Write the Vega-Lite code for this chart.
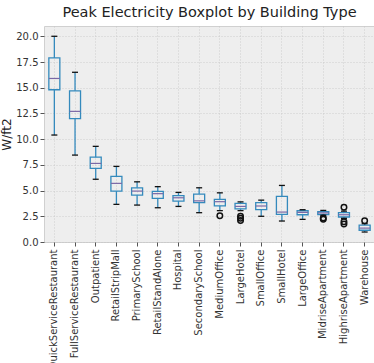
{
  "$schema": "https://vega.github.io/schema/vega-lite/v6.json",
  "width": 331,
  "height": 216,
  "padding": {"left": 0, "top": 4, "right": 0, "bottom": 0},
  "background": "white",
  "title": {"text": "Peak Electricity Boxplot by Building Type", "fontSize": 14.5, "fontWeight": "normal", "font": "DejaVu Sans", "color": "#222222", "offset": 6},
  "config": {
    "view": {"fill": "#eeeeee", "stroke": "#d0d0d0"},
    "axis": {"labelFont": "DejaVu Sans", "titleFont": "DejaVu Sans", "labelFontSize": 10, "labelColor": "#333333", "titleFontWeight": "normal", "titleColor": "#222222", "domain": false, "tickColor": "#555555", "tickSize": 4, "gridColor": "#c4c4c4", "gridDash": [1, 2], "gridWidth": 0.8, "labelOverlap": false}
  },
  "datasets": {
    "stats": [
      {"type": "QuickServiceRestaurant", "lo": 10.4, "q1": 14.8, "med": 15.9, "q3": 17.9, "hi": 20.0},
      {"type": "FullServiceRestaurant", "lo": 8.45, "q1": 12.0, "med": 12.7, "q3": 14.7, "hi": 16.5},
      {"type": "Outpatient", "lo": 6.1, "q1": 7.15, "med": 7.64, "q3": 8.25, "hi": 9.3},
      {"type": "RetailStripMall", "lo": 3.66, "q1": 4.95, "med": 5.7, "q3": 6.38, "hi": 7.35},
      {"type": "PrimarySchool", "lo": 3.59, "q1": 4.56, "med": 4.95, "q3": 5.27, "hi": 5.85},
      {"type": "RetailStandAlone", "lo": 3.33, "q1": 4.25, "med": 4.7, "q3": 4.93, "hi": 5.38},
      {"type": "Hospital", "lo": 3.46, "q1": 3.98, "med": 4.3, "q3": 4.5, "hi": 4.82},
      {"type": "SecondarySchool", "lo": 2.85, "q1": 3.82, "med": 4.0, "q3": 4.66, "hi": 5.27},
      {"type": "MediumOffice", "lo": 3.05, "q1": 3.52, "med": 3.92, "q3": 4.14, "hi": 4.78},
      {"type": "LargeHotel", "lo": 3.05, "q1": 3.23, "med": 3.46, "q3": 3.75, "hi": 3.9},
      {"type": "SmallOffice", "lo": 2.5, "q1": 3.15, "med": 3.5, "q3": 3.82, "hi": 4.07},
      {"type": "SmallHotel", "lo": 2.04, "q1": 2.69, "med": 2.91, "q3": 4.43, "hi": 5.5},
      {"type": "LargeOffice", "lo": 2.2, "q1": 2.65, "med": 2.88, "q3": 3.04, "hi": 3.14},
      {"type": "MidriseApartment", "lo": 2.6, "q1": 2.66, "med": 2.82, "q3": 2.94, "hi": 3.07},
      {"type": "HighriseApartment", "lo": 2.3, "q1": 2.43, "med": 2.65, "q3": 2.85, "hi": 3.0},
      {"type": "Warehouse", "lo": 0.97, "q1": 1.14, "med": 1.35, "q3": 1.65, "hi": 1.78}
    ],
    "outliers": [
      {"type": "MediumOffice", "value": 2.55},
      {"type": "LargeHotel", "value": 2.5},
      {"type": "LargeHotel", "value": 2.3},
      {"type": "LargeHotel", "value": 2.1},
      {"type": "MidriseApartment", "value": 2.33},
      {"type": "MidriseApartment", "value": 2.22},
      {"type": "HighriseApartment", "value": 3.38},
      {"type": "HighriseApartment", "value": 1.97},
      {"type": "HighriseApartment", "value": 1.74},
      {"type": "Warehouse", "value": 2.07}
    ]
  },
  "encoding": {
    "x": {
      "field": "type", "type": "nominal", "title": null,
      "sort": ["QuickServiceRestaurant", "FullServiceRestaurant", "Outpatient", "RetailStripMall", "PrimarySchool", "RetailStandAlone", "Hospital", "SecondarySchool", "MediumOffice", "LargeHotel", "SmallOffice", "SmallHotel", "LargeOffice", "MidriseApartment", "HighriseApartment", "Warehouse"],
      "scale": {"paddingInner": 0, "paddingOuter": 0},
      "axis": {"labelAngle": 270, "labelAlign": "right", "labelBaseline": "middle", "grid": true, "labelPadding": 3, "bandPosition": 0.5}
    }
  },
  "layer": [
    {
      "data": {"name": "stats"},
      "mark": {"type": "rule", "color": "#348ABD", "strokeWidth": 1.3},
      "encoding": {
        "y": {"field": "lo", "type": "quantitative", "title": "W/ft2", "scale": {"domain": [0, 21], "nice": false}, "axis": {"values": [0, 2.5, 5, 7.5, 10, 12.5, 15, 17.5, 20], "format": ".1f", "titleFontSize": 12, "labelPadding": 2, "titlePadding": 2, "grid": true, "labelOverlap": false}},
        "y2": {"field": "q1"}
      }
    },
    {
      "data": {"name": "stats"},
      "mark": {"type": "rule", "color": "#348ABD", "strokeWidth": 1.3},
      "encoding": {
        "y": {"field": "q3", "type": "quantitative", "title": "W/ft2", "axis": {"values": [0, 2.5, 5, 7.5, 10, 12.5, 15, 17.5, 20], "format": ".1f", "titleFontSize": 12, "labelPadding": 2, "titlePadding": 2, "grid": true, "labelOverlap": false}},
        "y2": {"field": "hi"}
      }
    },
    {
      "data": {"name": "stats"},
      "mark": {"type": "bar", "fill": "#eeeeee", "fillOpacity": 0, "stroke": "#348ABD", "strokeWidth": 1.3, "width": 11},
      "encoding": {
        "y": {"field": "q1", "type": "quantitative", "title": "W/ft2", "axis": {"values": [0, 2.5, 5, 7.5, 10, 12.5, 15, 17.5, 20], "format": ".1f", "titleFontSize": 12, "labelPadding": 2, "titlePadding": 2, "grid": true, "labelOverlap": false}},
        "y2": {"field": "q3"}
      }
    },
    {
      "data": {"name": "stats"},
      "mark": {"type": "tick", "color": "#7A68A6", "size": 11, "thickness": 1.2, "opacity": 1},
      "encoding": {"y": {"field": "med", "type": "quantitative", "title": "W/ft2", "axis": {"values": [0, 2.5, 5, 7.5, 10, 12.5, 15, 17.5, 20], "format": ".1f", "titleFontSize": 12, "labelPadding": 2, "titlePadding": 2, "grid": true, "labelOverlap": false}}}
    },
    {
      "data": {"name": "stats"},
      "mark": {"type": "tick", "color": "#111111", "size": 6, "thickness": 1.3, "opacity": 1},
      "encoding": {"y": {"field": "lo", "type": "quantitative", "title": "W/ft2", "axis": {"values": [0, 2.5, 5, 7.5, 10, 12.5, 15, 17.5, 20], "format": ".1f", "titleFontSize": 12, "labelPadding": 2, "titlePadding": 2, "grid": true, "labelOverlap": false}}}
    },
    {
      "data": {"name": "stats"},
      "mark": {"type": "tick", "color": "#111111", "size": 6, "thickness": 1.3, "opacity": 1},
      "encoding": {"y": {"field": "hi", "type": "quantitative", "title": "W/ft2", "axis": {"values": [0, 2.5, 5, 7.5, 10, 12.5, 15, 17.5, 20], "format": ".1f", "titleFontSize": 12, "labelPadding": 2, "titlePadding": 2, "grid": true, "labelOverlap": false}}}
    },
    {
      "data": {"name": "outliers"},
      "mark": {"type": "point", "shape": "circle", "filled": false, "stroke": "#111111", "strokeWidth": 1.5, "size": 30, "opacity": 1},
      "encoding": {"y": {"field": "value", "type": "quantitative", "title": "W/ft2", "axis": {"values": [0, 2.5, 5, 7.5, 10, 12.5, 15, 17.5, 20], "format": ".1f", "titleFontSize": 12, "labelPadding": 2, "titlePadding": 2, "grid": true, "labelOverlap": false}}}
    }
  ]
}
